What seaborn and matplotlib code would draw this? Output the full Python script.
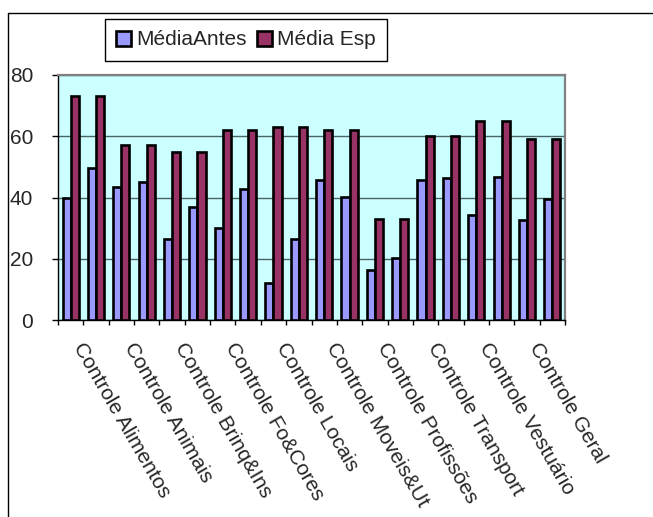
import numpy as np
import pandas as pd
import matplotlib
matplotlib.use("Agg")
import matplotlib.pyplot as plt
import matplotlib.transforms as mtransforms
from matplotlib.lines import Line2D
import seaborn as sns

# Category labels (one per pair of groups) and the two series
rotulos = ["Controle Alimentos", "Controle Animais", "Controle Brinq&Ins",
           "Controle Fo&Cores", "Controle Locais", "Controle Moveis&Ut",
           "Controle Profissões", "Controle Transport", "Controle Vestuário",
           "Controle Geral"]
series = ["MédiaAntes", "Média Esp"]
media_antes = [40.0, 49.5, 43.3, 45.2, 26.3, 36.8, 29.9, 42.7, 12.0, 26.3,
               45.7, 40.3, 16.3, 20.1, 45.7, 46.4, 34.2, 46.6, 32.7, 39.4]
media_esp = [73, 73, 57, 57, 55, 55, 62, 62, 63, 63,
             62, 62, 33, 33, 60, 60, 65, 65, 59, 59]
yticks = [0, 20, 40, 60, 80]

n = len(media_antes)
df = pd.DataFrame({
    "grupo": list(range(n)) * 2,
    "valor": media_antes + media_esp,
    "serie": [series[0]] * n + [series[1]] * n,
})

sns.set_style("white")
plt.rcParams["font.family"] = ["Liberation Sans", "DejaVu Sans"]

fig = plt.figure(figsize=(6.53, 5.17), dpi=100)
ax = fig.add_axes([58 / 653, 1 - 320 / 517, (565 - 58) / 653, (320 - 75) / 517])
ax.set_facecolor("#CCFFFF")

sns.barplot(data=df, x="grupo", y="valor", hue="serie",
            palette=["#9999FF", "#993366"], width=0.64, gap=0,
            edgecolor="black", linewidth=1.9, saturation=1,
            ax=ax, zorder=3)

ax.set_ylim(0, 80)
ax.set_xlim(-0.5, n - 0.5)
ax.set_yticks(yticks)
ax.set_yticklabels([str(v) for v in yticks], fontsize=15)
ax.yaxis.grid(True, color="#4a6464", linewidth=1.0, zorder=1)
ax.set_axisbelow(True)
ax.set_xlabel("")
ax.set_ylabel("")

# Tick marks at the group boundaries
ax.set_xticks(np.arange(-0.5, n, 1.0))
ax.set_xticklabels([])
ax.tick_params(axis="x", direction="out", length=3.6, width=1, color="black",
               bottom=True)
ax.tick_params(axis="y", direction="out", length=4.3, width=1, color="black",
               left=True, pad=13.5)

for side in ("left", "bottom"):
    ax.spines[side].set_color("black")
    ax.spines[side].set_linewidth(1.0)
for side in ("top", "right"):
    ax.spines[side].set_color("#808080")
    ax.spines[side].set_linewidth(1.6)

# Rotated category labels under every other group
offset = mtransforms.ScaledTranslation(7 / 100, -24 / 100, fig.dpi_scale_trans)
trans = mtransforms.blended_transform_factory(ax.transData, ax.transAxes) + offset
for i, rot in enumerate(rotulos):
    ax.text(2 * i, 0, rot, transform=trans, rotation=-60,
            rotation_mode="anchor", ha="left", va="center", fontsize=15)

sns.move_legend(ax, "upper left", bbox_to_anchor=(105 / 653, 1 - 19 / 517),
                bbox_transform=fig.transFigure, ncol=2, title=None,
                frameon=True, fancybox=False, fontsize=15,
                handlelength=0.72, handleheight=0.72, handletextpad=0.25,
                columnspacing=0.45, borderpad=0.55, borderaxespad=0)
leg = ax.get_legend()
leg.get_frame().set_edgecolor("black")
leg.get_frame().set_linewidth(1.0)
leg.get_frame().set_facecolor("white")
leg.get_frame().set_alpha(1)

# Outer chart-area frame
fig.add_artist(Line2D([8 / 653, 8 / 653], [0, 1 - 13 / 517],
                      transform=fig.transFigure, color="black", linewidth=1.0))
fig.add_artist(Line2D([8 / 653, 1], [1 - 13 / 517, 1 - 13 / 517],
                      transform=fig.transFigure, color="black", linewidth=1.0))

fig.savefig("out.png", dpi=100)
